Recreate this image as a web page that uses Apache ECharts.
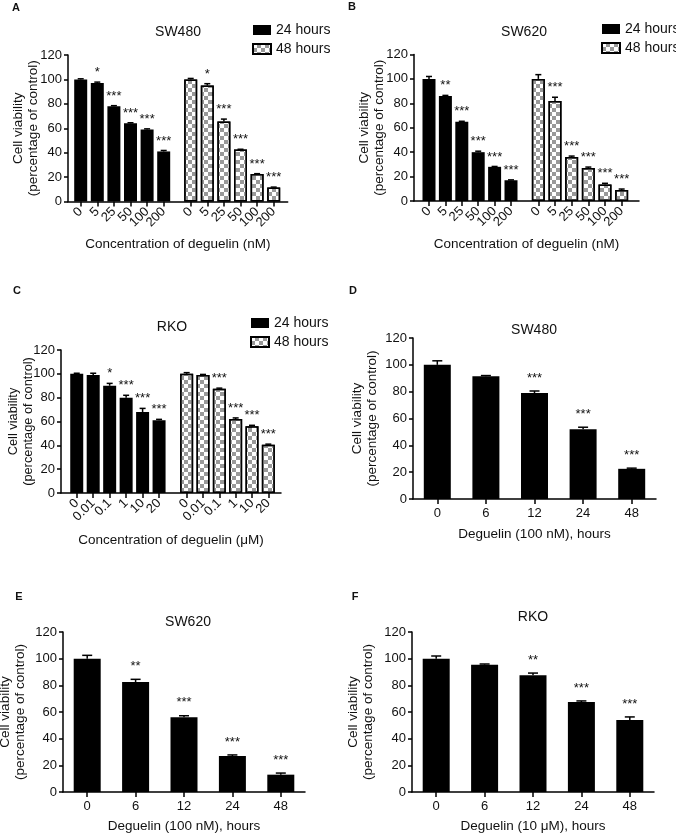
<!DOCTYPE html>
<html><head><meta charset="utf-8">
<script src="https://cdn.jsdelivr.net/npm/echarts@6/dist/echarts.min.js"></script>
<style>html,body{margin:0;padding:0;background:#fff}#c{width:676px;height:835px}</style>
</head><body><div id="c"></div>
<script>
// ---------- DATA ----------
const catsNM = ['0', '5', '25', '50', '100', '200'];
const catsUM = ['0', '0.01', '0.1', '1', '10', '20'];
const catsHours = ['0', '6', '12', '24', '48'];
const yTicks = [0, 20, 40, 60, 80, 100, 120];

// A: SW480 dose
const aSW480_24h = [100, 97, 78, 64, 59, 41];
const aSW480_24hErr = [0.5, 0.8, 0.5, 0.5, 0.5, 0.8];
const aSW480_24hSig = ['', '*', '***', '***', '***', '***'];
const aSW480_48h = [100, 95, 65.5, 42.5, 22.5, 11.5];
const aSW480_48hErr = [0.8, 1.5, 2, 0.3, 0.3, 0.3];
const aSW480_48hSig = ['', '*', '***', '***', '***', '***'];

// B: SW620 dose
const bSW620_24h = [100, 86, 65, 40, 28, 17];
const bSW620_24hErr = [2, 0.5, 0.3, 0.8, 0.3, 0.3];
const bSW620_24hSig = ['', '**', '***', '***', '***', '***'];
const bSW620_48h = [100, 82, 36, 27, 13.5, 9];
const bSW620_48hErr = [3.5, 3, 0.8, 0.8, 1, 0.8];
const bSW620_48hSig = ['', '***', '***', '***', '***', '***'];

// C: RKO dose
const cRKO_24h = [100, 99, 90, 80, 68, 61];
const cRKO_24hErr = [0.5, 1.5, 2, 2, 3, 0.8];
const cRKO_24hSig = ['', '', '*', '***', '***', '***'];
const cRKO_48h = [100, 99, 87.5, 62, 56, 40.5];
const cRKO_48hErr = [1, 0.5, 0.5, 1, 0.8, 0.5];
const cRKO_48hSig = ['', '', '***', '***', '***', '***'];

// D: SW480 time
const dSW480 = [100, 91.5, 79, 52, 22.5];
const dSW480Err = [3, 0.5, 1.5, 1.5, 0.5];
const dSW480Sig = ['', '', '***', '***', '***'];

// E: SW620 time
const eSW620 = [100, 82.5, 56, 27, 13];
const eSW620Err = [2.5, 2, 1.2, 0.8, 1.2];
const eSW620Sig = ['', '**', '***', '***', '***'];

// F: RKO time
const fRKO = [100, 95.5, 87.5, 67.5, 54];
const fRKOErr = [2, 0.5, 1.7, 0.8, 2.3];
const fRKOSig = ['', '', '**', '***', '***'];

const yName = 'Cell viability\n(percentage of control)';

// ---------- STYLE / LAYOUT ----------
const FONT = '"Liberation Sans", Arial, Helvetica, sans-serif';
const TXT = '#111';
const LINE = {color: '#000', width: 1.5};
const DECAL = {symbol: 'rect', symbolSize: 1, color: '#999999',
  dashArrayX: [[4, 4], [0, 4, 4, 0]], dashArrayY: [4, 0], rotation: 0};

const option = {animation: false, backgroundColor: '#fff',
  textStyle: {fontFamily: FONT, color: TXT},
  grid: [], xAxis: [], yAxis: [], series: [], title: [], legend: []};

function addGrid(left, top, width, height) {
  option.grid.push({left, top, width, height, containLabel: false, outerBoundsMode: 'none'});
  return option.grid.length - 1;
}

function frameY(gi, nameGap, nameSize) {
  option.yAxis.push({gridIndex: gi, type: 'value', min: yTicks[0], max: yTicks[yTicks.length - 1],
    interval: yTicks[1] - yTicks[0],
    axisLine: {show: true, lineStyle: LINE}, axisTick: {show: true, length: 4, lineStyle: LINE},
    axisLabel: {fontSize: 13, color: TXT, margin: 6, fontFamily: FONT}, splitLine: {show: false},
    name: yName, nameLocation: 'middle', nameGap: nameGap, nameMoveOverlap: false,
    nameTextStyle: {fontSize: nameSize || 13.5, lineHeight: 15, color: TXT, fontFamily: FONT}});
  return option.yAxis.length - 1;
}

function hiddenY(gi) {
  option.yAxis.push({gridIndex: gi, type: 'value', show: false, min: yTicks[0], max: yTicks[yTicks.length - 1]});
  return option.yAxis.length - 1;
}

function errSeries(xi, yi, vals, errs, sigs, capW, starK) {
  option.series.push({type: 'custom', xAxisIndex: xi, yAxisIndex: yi, silent: true, z: 5,
    data: vals.map((v, i) => [i, v, errs[i]]),
    renderItem: function (params, api) {
      const i = api.value(0), v = api.value(1), e = api.value(2);
      const base = api.coord([i, v]);
      const top = api.coord([i, v + e]);
      const ch = [];
      ch.push({type: 'line', shape: {x1: top[0], y1: base[1], x2: top[0], y2: top[1]},
        style: {stroke: '#000', lineWidth: 1.5}});
      ch.push({type: 'line', shape: {x1: top[0] - capW / 2, y1: top[1], x2: top[0] + capW / 2, y2: top[1]},
        style: {stroke: '#000', lineWidth: 1.5}});
      const s = sigs[params.dataIndex];
      if (s) ch.push({type: 'text', x: top[0], y: top[1] - starK,
        style: {text: s, fill: TXT, font: '13px ' + FONT, align: 'center', verticalAlign: 'middle'}});
      return {type: 'group', children: ch};
    }});
}

function barSeries(name, xi, yi, vals, width, hatched) {
  option.series.push({type: 'bar', name: name, xAxisIndex: xi, yAxisIndex: yi, data: vals,
    barWidth: width,
    itemStyle: hatched ? {color: '#fff', borderColor: '#000', borderWidth: 1.5, decal: DECAL}
                       : {color: '#000', borderColor: '#000', borderWidth: 0}});
}

function addTitle(text, x, y, size, bold) {
  option.title.push({text: text, left: x, top: y, textAlign: 'center', textVerticalAlign: 'middle', padding: 0,
    textStyle: {fontSize: size, fontWeight: bold ? 'bold' : 'normal', color: TXT, fontFamily: FONT}});
}

function addLegend(x, y) {
  option.legend.push({left: x, top: y, orient: 'vertical', itemWidth: 18, itemHeight: 10, itemGap: 5,
    padding: 0, selectedMode: false, icon: 'rect', data: ['24 hours', '48 hours'],
    textStyle: {fontSize: 14, lineHeight: 12, color: TXT, fontFamily: FONT}});
}

// Dose panels (two groups)
function dosePanel(P, cats, s24, e24, g24, s48, e48, g48) {
  const fg = addGrid(P.left, P.top, P.width, P.height);
  option.xAxis.push({gridIndex: fg, type: 'value', min: 0, max: 1,
    axisLine: {show: true, lineStyle: LINE}, axisTick: {show: false}, axisLabel: {show: false},
    splitLine: {show: false}, name: P.xName, nameLocation: 'middle', nameGap: P.xNameGap, nameMoveOverlap: false,
    nameTextStyle: {fontSize: 13.5, color: TXT, fontFamily: FONT}});
  frameY(fg, P.yNameGap, P.yNameSize);
  const groups = [[s24, e24, g24, '24 hours', false], [s48, e48, g48, '48 hours', true]];
  groups.forEach((g, k) => {
    const gi = addGrid(P.groups[k].left, P.top, P.groups[k].width, P.height);
    option.xAxis.push({gridIndex: gi, type: 'category', data: cats,
      axisLine: {show: false}, axisTick: {show: true, alignWithLabel: true, interval: 0, length: 5, lineStyle: LINE},
      axisLabel: {interval: 0, rotate: 45, fontSize: 13, color: TXT, margin: 8, fontFamily: FONT},
      splitLine: {show: false}});
    const xi = option.xAxis.length - 1;
    const yi = hiddenY(gi);
    barSeries(g[3], xi, yi, g[0], 13, g[4]);
    errSeries(xi, yi, g[0], g[1], g[2], 6, 9.5);
  });
}

function timePanel(P, cats, vals, errs, sigs) {
  const gi = addGrid(P.left, P.top, P.width, P.height);
  option.xAxis.push({gridIndex: gi, type: 'category', data: cats,
    axisLine: {show: true, lineStyle: LINE},
    axisTick: {show: true, alignWithLabel: true, interval: 0, length: 5, lineStyle: LINE},
    axisLabel: {interval: 0, fontSize: 13, color: TXT, margin: 8, fontFamily: FONT},
    splitLine: {show: false}, name: P.xName, nameLocation: 'middle', nameGap: P.xNameGap, nameMoveOverlap: false,
    nameTextStyle: {fontSize: 13.5, color: TXT, fontFamily: FONT}});
  const xi = option.xAxis.length - 1;
  const yi = frameY(gi, P.yNameGap);
  barSeries('24 hours', xi, yi, vals, 27, false);
  errSeries(xi, yi, vals, errs, sigs, 10, 13);
}

dosePanel({left: 68, top: 55, width: 219.7, height: 146.5,
  groups: [{left: 72.4, width: 99.6}, {left: 182.4, width: 99.6}],
  xName: 'Concentration of deguelin (nM)', xNameGap: 36, yNameGap: 27},
  catsNM, aSW480_24h, aSW480_24hErr, aSW480_24hSig, aSW480_48h, aSW480_48hErr, aSW480_48hSig);

dosePanel({left: 414, top: 54.5, width: 225, height: 146.5,
  groups: [{left: 420.8, width: 98.4}, {left: 530, width: 100}],
  xName: 'Concentration of deguelin (nM)', xNameGap: 36, yNameGap: 27},
  catsNM, bSW620_24h, bSW620_24hErr, bSW620_24hSig, bSW620_48h, bSW620_48hErr, bSW620_48hSig);

dosePanel({left: 61, top: 350, width: 220, height: 143,
  groups: [{left: 68.5, width: 98.8}, {left: 178.5, width: 98}],
  xName: 'Concentration of deguelin (μM)', xNameGap: 40, yNameGap: 25, yNameSize: 12.8},
  catsUM, cRKO_24h, cRKO_24hErr, cRKO_24hSig, cRKO_48h, cRKO_48hErr, cRKO_48hSig);

timePanel({left: 413, top: 338, width: 243, height: 161,
  xName: 'Deguelin (100 nM), hours', xNameGap: 28, yNameGap: 33}, catsHours, dSW480, dSW480Err, dSW480Sig);
timePanel({left: 63, top: 632, width: 242, height: 160,
  xName: 'Deguelin (100 nM), hours', xNameGap: 27, yNameGap: 35}, catsHours, eSW620, eSW620Err, eSW620Sig);
timePanel({left: 412, top: 632, width: 242, height: 160,
  xName: 'Deguelin (10 μM), hours', xNameGap: 27, yNameGap: 36}, catsHours, fRKO, fRKOErr, fRKOSig);

addTitle('A', 16, 8, 11, true);
addTitle('B', 352, 7, 11, true);
addTitle('C', 17, 291, 11, true);
addTitle('D', 353, 291, 11, true);
addTitle('E', 19, 597, 11, true);
addTitle('F', 355, 597, 11, true);
addTitle('SW480', 178, 32, 14, false);
addTitle('SW620', 524, 32, 14, false);
addTitle('RKO', 172, 327, 14, false);
addTitle('SW480', 534, 330, 14, false);
addTitle('SW620', 188, 622, 14, false);
addTitle('RKO', 533, 617, 14, false);

addLegend(252, 23);
addLegend(601, 22);
addLegend(250, 316);

const chart = echarts.init(document.getElementById('c'), null, {renderer: 'canvas'});
chart.setOption(option);
</script>
</body></html>
